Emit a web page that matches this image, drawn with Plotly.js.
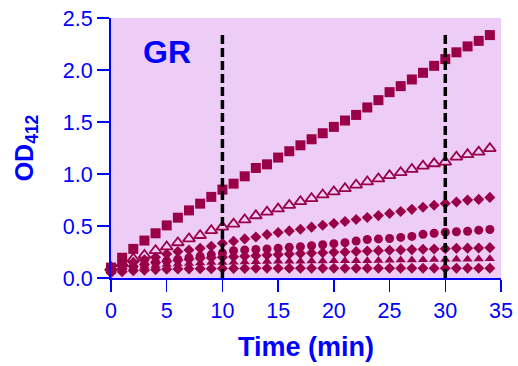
<!DOCTYPE html>
<html>
<head>
<meta charset="utf-8">
<script src="https://cdn.plot.ly/plotly-3.0.1.min.js"></script>
<style>html,body{margin:0;padding:0;background:#fff;}#chart{width:518px;height:366px;}</style>
</head>
<body>
<div id="chart"></div>
<script>
const time = [0,1,2,3,4,5,6,7,8,9,10,11,12,13,14,15,16,17,18,19,20,21,22,23,24,25,26,27,28,29,30,31,32,33,34];

const seriesSquare = [0.10,0.195,0.28,0.36,0.43,0.506,0.58,0.65,0.715,0.78,0.85,0.907,0.978,1.058,1.093,1.158,1.219,1.276,1.334,1.392,1.453,1.514,1.568,1.64,1.71,1.787,1.845,1.909,1.973,2.04,2.105,2.17,2.227,2.28,2.336];
const seriesOpenTri = [0.10,0.14,0.185,0.22,0.265,0.30,0.34,0.377,0.41,0.457,0.49,0.52,0.56,0.60,0.635,0.665,0.70,0.735,0.765,0.80,0.83,0.86,0.895,0.925,0.955,0.985,1.015,1.045,1.077,1.10,1.116,1.164,1.187,1.212,1.245];
const seriesDiamondHigh = [0.08,0.12,0.15,0.175,0.20,0.23,0.255,0.27,0.285,0.305,0.335,0.354,0.376,0.395,0.418,0.437,0.453,0.469,0.489,0.508,0.524,0.543,0.563,0.582,0.60,0.62,0.64,0.66,0.68,0.70,0.717,0.73,0.749,0.756,0.775];
const seriesCircle = [0.07,0.09,0.11,0.13,0.15,0.165,0.18,0.195,0.21,0.225,0.24,0.263,0.27,0.275,0.28,0.286,0.295,0.30,0.31,0.32,0.33,0.34,0.356,0.37,0.376,0.38,0.39,0.40,0.42,0.43,0.44,0.445,0.45,0.46,0.466];
const seriesDiamondMid = [0.06,0.09,0.11,0.13,0.15,0.16,0.17,0.18,0.19,0.195,0.20,0.205,0.21,0.215,0.22,0.225,0.23,0.235,0.24,0.243,0.247,0.25,0.255,0.26,0.263,0.266,0.27,0.273,0.276,0.279,0.282,0.285,0.287,0.289,0.292];
const seriesFilledTri = [0.06,0.08,0.095,0.11,0.12,0.13,0.135,0.14,0.145,0.148,0.15,0.152,0.154,0.156,0.158,0.16,0.161,0.162,0.163,0.164,0.165,0.166,0.167,0.167,0.168,0.17,0.172,0.174,0.176,0.177,0.178,0.18,0.181,0.183,0.185];
const seriesDiamondLow = [0.05,0.06,0.07,0.075,0.08,0.085,0.087,0.088,0.09,0.09,0.091,0.092,0.092,0.093,0.093,0.093,0.093,0.093,0.093,0.093,0.093,0.093,0.093,0.093,0.093,0.093,0.093,0.093,0.093,0.093,0.093,0.093,0.093,0.093,0.093];

const markerLines = [10, 30];
const labelText = 'GR';

const col = '#990047';
const blue = '#0000ff';
const fam = 'Liberation Sans, Arial, Helvetica, sans-serif';

function tr(y, symbol, size, open) {
  return {
    x: time, y: y, type: 'scatter', mode: 'markers', cliponaxis: false,
    marker: open ? {symbol: symbol, size: size, color: col, line: {width: 1.8}}
                 : {symbol: symbol, size: size, color: col, line: {width: 0}},
    hoverinfo: 'skip', showlegend: false
  };
}

const data = [
  tr(seriesDiamondLow, 'diamond', 8.5),
  tr(seriesFilledTri, 'triangle-up', 9),
  tr(seriesDiamondMid, 'diamond', 8.5),
  tr(seriesCircle, 'circle', 9),
  tr(seriesDiamondHigh, 'diamond', 8.5),
  tr(seriesOpenTri, 'triangle-up-open', 10.5, true),
  tr(seriesSquare, 'square', 10)
];

const layout = {
  width: 518, height: 366,
  margin: {l: 111, r: 17, t: 18, b: 88, pad: 0},
  paper_bgcolor: '#ffffff',
  plot_bgcolor: '#edcdf6',
  font: {family: fam, color: blue},
  xaxis: {
    range: [0, 35], dtick: 5, tick0: 0,
    ticks: 'outside', ticklen: 12, tickwidth: 1.5, tickcolor: blue,
    showline: true, linecolor: blue, linewidth: 2,
    showgrid: false, zeroline: false,
    tickfont: {family: fam, size: 21.5, color: blue},
    title: {text: '<b>Time (min)</b>', standoff: 15, font: {family: fam, size: 27, color: blue}}
  },
  yaxis: {
    range: [0, 2.5], dtick: 0.5, tick0: 0, tickformat: '.1f',
    ticks: 'outside', ticklen: 12, tickwidth: 1.5, tickcolor: blue,
    showline: true, linecolor: blue, linewidth: 2,
    showgrid: false, zeroline: false,
    tickfont: {family: fam, size: 21.5, color: blue},
    title: {text: '<b>OD<sub>412</sub></b>', standoff: 22, font: {family: fam, size: 25, color: blue}}
  },
  shapes: markerLines.map(v => ({
    type: 'line', xref: 'x', yref: 'y', x0: v, x1: v, y0: 0, y1: 2.37,
    line: {color: '#000000', width: 3.5, dash: '9px,4px'}, layer: 'above'
  })),
  annotations: [{
    x: 5.03, y: 2.17, xref: 'x', yref: 'y', text: '<b>' + labelText + '</b>',
    showarrow: false, font: {family: fam, size: 32, color: blue}
  }]
};

Plotly.newPlot('chart', data, layout, {staticPlot: true, displayModeBar: false});
</script>
</body>
</html>
